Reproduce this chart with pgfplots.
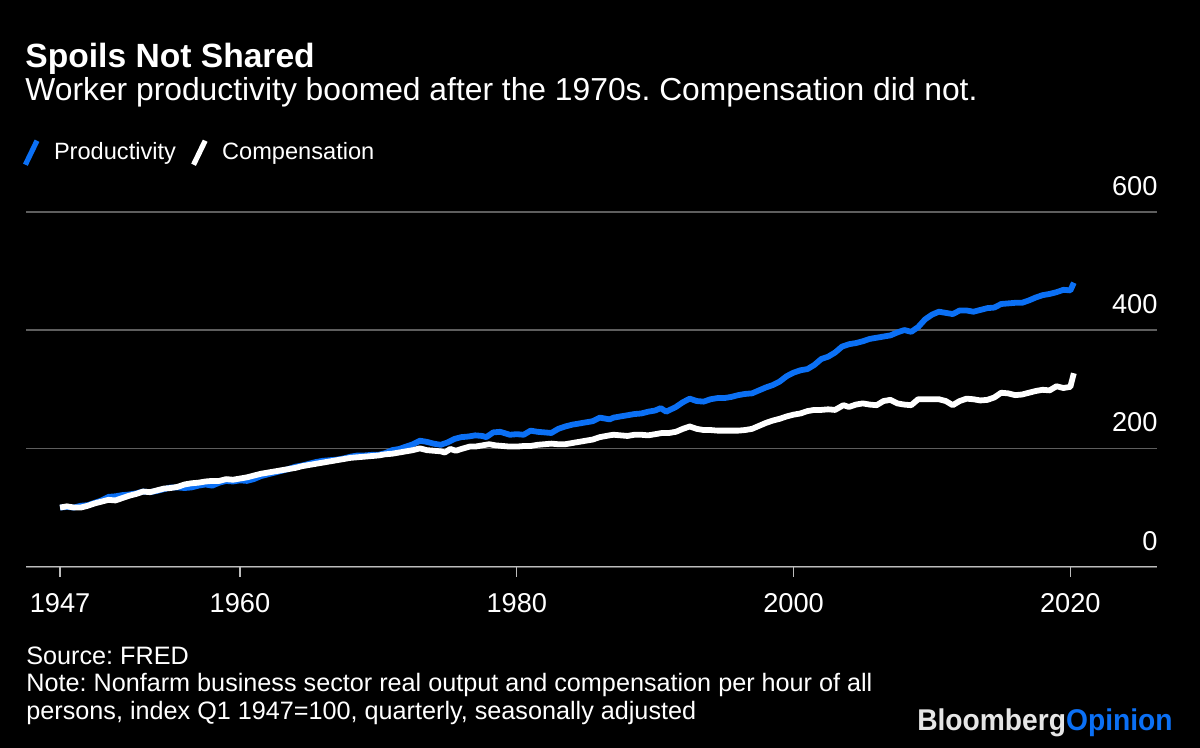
\documentclass[border=0pt]{standalone}
\usepackage{fontspec}
\setmainfont{Liberation Sans}
\usepackage{graphicx}
\usepackage{pgfplots}
\usepackage{pgfplotstable}
\pgfplotsset{compat=1.18}
\frenchspacing
\definecolor{bbblue}{HTML}{0B70F5}
\definecolor{gridgray}{HTML}{5E5E5E}
\definecolor{basegray}{HTML}{BDBDBD}
\definecolor{logogray}{HTML}{E6E6E6}

\pgfplotstableread{
year val
1947.0 100
1947.5 101
1948.0 100
1948.5 103
1949.0 104
1949.5 108
1950.0 112
1950.5 118
1951.0 119
1951.5 121
1952.0 122
1952.5 124
1953.0 127
1953.5 126
1954.0 128
1954.5 131
1955.0 134
1955.5 134
1956.0 133
1956.5 134
1957.0 137
1957.5 139
1958.0 137
1958.5 142
1959.0 145
1959.5 144
1960.0 146
1960.5 145
1961.0 148
1961.5 153
1962.0 156
1962.5 159
1963.0 162
1963.5 165
1964.0 169
1964.5 171
1965.0 174
1965.5 177
1966.0 179
1966.5 180
1967.0 181
1967.5 183
1968.0 186
1968.5 188
1969.0 188
1969.5 189
1970.0 189
1970.5 192
1971.0 197
1971.5 199
1972.0 203
1972.5 207
1973.0 213
1973.5 211
1974.0 208
1974.5 206
1975.0 210
1975.5 216
1976.0 219
1976.5 220
1977.0 222
1977.5 221
1977.8 219
1978.3 227
1978.8 228
1979.5 223
1980.0 224
1980.5 223
1981.0 230
1981.5 228
1982.0 227
1982.5 226
1983.0 233
1983.5 237
1984.0 240
1984.5 242
1985.0 244
1985.5 246
1986.0 252
1986.7 249
1987.0 252
1987.5 254
1988.0 256
1988.5 258
1989.0 259
1989.5 262
1990.0 264
1990.4 268
1990.8 262
1991.5 270
1992.0 278
1992.5 284
1993.0 280
1993.5 279
1994.0 283
1994.5 285
1995.0 285
1995.5 287
1996.0 290
1996.5 292
1997.0 293
1997.5 298
1998.0 303
1998.5 307
1999.0 313
1999.5 322
2000.0 328
2000.5 332
2001.0 334
2001.5 341
2002.0 351
2002.5 355
2003.0 362
2003.5 372
2004.0 376
2004.5 378
2005.0 381
2005.5 385
2006.0 387
2006.5 389
2007.0 391
2007.5 396
2008.0 400
2008.5 397
2009.0 405
2009.5 418
2010.0 426
2010.5 431
2011.0 429
2011.5 427
2012.0 433
2012.5 433
2013.0 431
2013.5 434
2014.0 437
2014.5 438
2015.0 444
2015.5 445
2016.0 446
2016.5 446
2017.0 450
2017.5 455
2018.0 459
2018.5 461
2019.0 464
2019.5 468
2020.0 467
2020.25 480
}\productivity

\pgfplotstableread{
year val
1947.0 100
1947.5 102
1948.0 100
1948.5 100
1949.0 103
1949.5 107
1950.0 110
1950.5 113
1951.0 112
1951.5 116
1952.0 120
1952.5 123
1953.0 127
1953.5 126
1954.0 129
1954.5 132
1955.0 133
1955.5 135
1956.0 139
1956.5 141
1957.0 142
1957.5 144
1958.0 145
1958.5 145
1959.0 148
1959.5 147
1960.0 149
1960.5 151
1961.0 154
1961.5 157
1962.0 159
1962.5 161
1963.0 163
1963.5 165
1964.0 167
1964.5 170
1965.0 172
1965.5 174
1966.0 176
1966.5 178
1967.0 180
1967.5 182
1968.0 184
1968.5 185
1969.0 186
1969.5 187
1970.0 188
1970.5 190
1971.0 191
1971.5 193
1972.0 195
1972.5 197
1973.0 200
1973.5 197
1974.0 196
1974.5 195
1974.8 193
1975.2 199
1975.6 196
1976.0 199
1976.6 203
1977.0 203
1977.5 205
1978.0 207
1978.5 205
1979.0 204
1979.5 203
1980.0 203
1980.5 204
1981.0 204
1981.5 206
1982.0 207
1982.5 208
1983.0 207
1983.5 207
1984.0 209
1984.5 211
1985.0 213
1985.5 215
1986.0 219
1986.7 222
1987.0 223
1987.5 222
1988.0 221
1988.5 223
1989.0 223
1989.5 222
1990.0 224
1990.5 226
1991.0 226
1991.5 228
1992.0 233
1992.5 237
1993.0 233
1993.5 231
1994.0 231
1994.5 230
1995.0 230
1995.5 230
1996.0 230
1996.5 231
1997.0 233
1997.5 238
1998.0 243
1998.5 247
1999.0 250
1999.5 254
2000.0 257
2000.5 259
2001.0 263
2001.5 265
2002.0 265
2002.5 266
2003.0 265
2003.6 273
2004.0 270
2004.5 274
2005.0 276
2005.5 274
2006.0 273
2006.5 280
2007.0 282
2007.5 276
2008.0 274
2008.5 273
2009.0 283
2009.5 283
2010.0 283
2010.5 283
2011.0 280
2011.5 273
2012.0 280
2012.5 284
2013.0 283
2013.5 281
2014.0 282
2014.5 286
2015.0 294
2015.5 293
2016.0 290
2016.5 291
2017.0 294
2017.5 297
2018.0 299
2018.5 298
2019.0 305
2019.5 302
2020.0 304
2020.25 327
}\compensation

\begin{document}
\begin{tikzpicture}
\fill[black] (0,0) rectangle (600pt,-374pt);
\begin{axis}[
  at={(13pt,-283.35pt)}, anchor=south west,
  scale only axis, width=565.5pt, height=177.5pt,
  xmin=1944.54, xmax=2026.26, ymin=0, ymax=600,
  axis line style={draw=none},
  xtick={1947,1960,1980,2000,2020},
  ytick={0,200,400,600},
  ymajorgrids,
  major grid style={gridgray, line width=0.8pt},
  tick align=outside, xtick pos=bottom, ytick pos=right,
  major tick length=5pt,
  xtick style={basegray, line width=0.6pt},
  ytick style={draw=none},
  yticklabel pos=right,
  ticklabel style={font=\fontsize{13.6}{15}\selectfont, text=white},
  /pgf/number format/assume math mode=true,
  /pgf/number format/1000 sep={},
  xticklabel style={anchor=base, inner sep=0pt, yshift=-18pt},
  yticklabel style={anchor=base east, inner sep=0pt, xshift=-4.6pt, yshift=8.3pt},
  legend style={at={(0,1)}, anchor=west, xshift=-4.8pt, yshift=29.5pt,
    draw=none, fill=none, text=white, font=\fontsize{11.8}{14}\selectfont,
    /tikz/every even column/.append style={column sep=5.5pt}},
  legend columns=2,
  legend image code/.code={\path[draw=none] (0pt,0pt) -- (12.3pt,0pt);\draw[line width=2.6pt] (0pt,-6pt) -- (5.8pt,6pt);},
]
\addplot[bbblue, line width=2.9pt, line join=round] table[x=year, y=val] {\productivity};
\addlegendentry{Productivity}
\addplot[white, line width=2.9pt, line join=round] table[x=year, y=val] {\compensation};
\addlegendentry{Compensation}
\draw[basegray, line width=0.8pt] (rel axis cs:0,0) -- (rel axis cs:1,0);
\end{axis}
\node[anchor=base west, inner sep=0pt, text=white, font=\fontsize{16.8}{18}\selectfont\bfseries] at (12.5pt,-34pt) {Spoils Not Shared};
\node[anchor=base west, inner sep=0pt, text=white, font=\fontsize{15.9}{18}\selectfont] at (12.5pt,-50.2pt) {Worker productivity boomed after the 1970s. Compensation did not.};
\node[anchor=base west, inner sep=0pt, text=white, font=\fontsize{12.6}{14}\selectfont] at (13pt,-332.2pt) {Source: FRED};
\node[anchor=base west, inner sep=0pt, text=white, font=\fontsize{12.6}{14}\selectfont] at (13pt,-345.9pt) {Note: Nonfarm business sector real output and compensation per hour of all};
\node[anchor=base west, inner sep=0pt, text=white, font=\fontsize{12.6}{14}\selectfont] at (13pt,-359.5pt) {persons, index Q1 1947=100, quarterly, seasonally adjusted};
\node[anchor=base east, inner sep=0pt, font=\fontsize{15}{17}\selectfont\bfseries] at (586.5pt,-365pt) {\scalebox{0.94}[1]{\textcolor{logogray}{Bloomberg}\textcolor{bbblue}{Opinion}}};
\pgfresetboundingbox
\useasboundingbox (0,0) rectangle (600pt,-374pt);
\end{tikzpicture}
\end{document}
